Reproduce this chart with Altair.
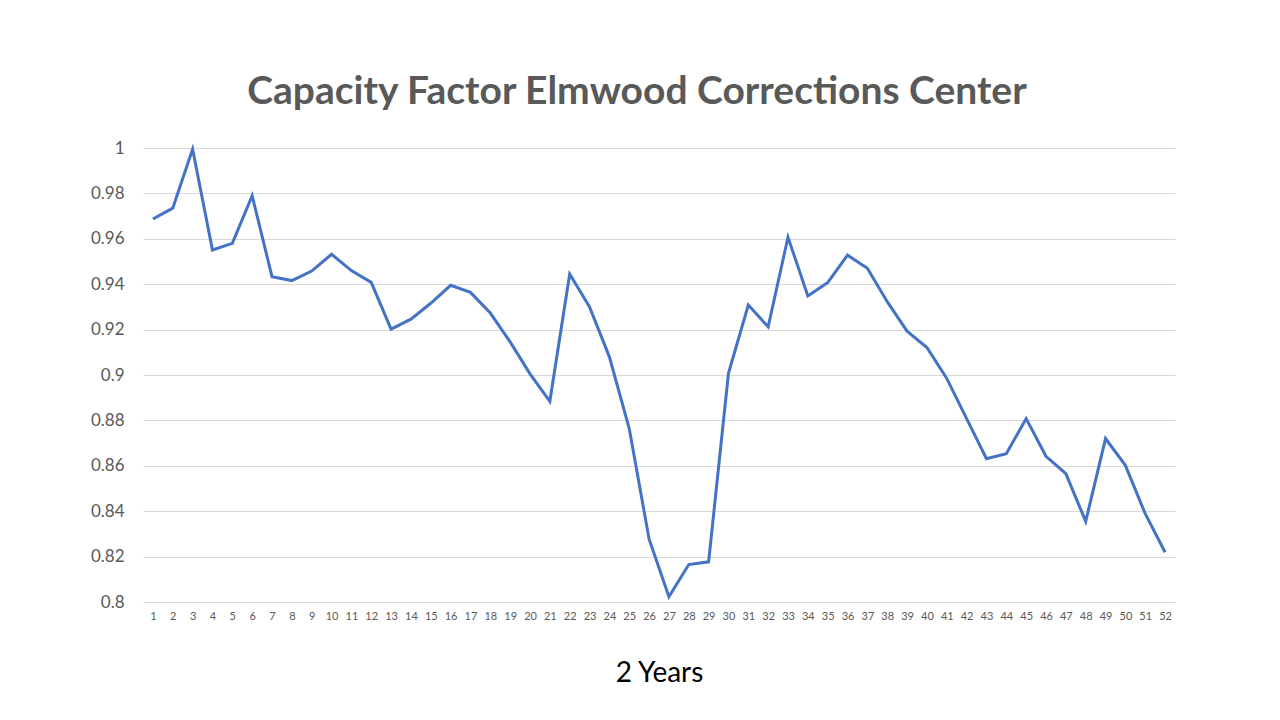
import altair as alt
import pandas as pd

weeks = list(range(1, 53))
capacity = [
    0.9687, 0.9735, 0.9995, 0.9551, 0.9580, 0.9790, 0.9433, 0.9416, 0.9458, 0.9532,
    0.9460, 0.9408, 0.9202, 0.9246, 0.9316, 0.9395, 0.9364, 0.9273, 0.9146, 0.9005,
    0.8884, 0.9445, 0.9300, 0.9080, 0.8764, 0.8278, 0.8023, 0.8165, 0.8177, 0.9007,
    0.9308, 0.9212, 0.9607, 0.9348, 0.9407, 0.9528, 0.9470, 0.9323, 0.9193, 0.9121,
    0.8985, 0.8808, 0.8631, 0.8653, 0.8808, 0.8642, 0.8565, 0.8355, 0.8720, 0.8602,
    0.8389, 0.8219,
]
y_ticks = [0.8, 0.82, 0.84, 0.86, 0.88, 0.9, 0.92, 0.94, 0.96, 0.98, 1.0]

df = pd.DataFrame({"week": weeks, "cf": capacity})

FONT = "Lato"
GRAY = "#595959"

chart = (
    alt.Chart(df)
    .mark_line(color="#4472C4", strokeWidth=3)
    .encode(
        x=alt.X(
            "week:O",
            sort=weeks,
            scale=alt.Scale(padding=0.5),
            axis=alt.Axis(
                title="2 Years",
                titleFont=FONT,
                titleFontSize=28,
                titleFontWeight="normal",
                titleColor="#000000",
                titlePadding=38,
                labelAngle=0,
                labelFont=FONT,
                labelFontSize=11,
                labelColor=GRAY,
                labelPadding=8,
                ticks=False,
                domain=True,
                domainColor="#d9d9d9",
                grid=False,
            ),
        ),
        y=alt.Y(
            "cf:Q",
            scale=alt.Scale(domain=[0.8, 1.0], nice=False, zero=False),
            axis=alt.Axis(
                title=None,
                values=y_ticks,
                format="~g",
                labelFont=FONT,
                labelFontSize=17,
                labelColor=GRAY,
                labelPadding=19,
                ticks=False,
                domain=False,
                grid=True,
                gridColor="#d9d9d9",
                gridWidth=1,
            ),
        ),
    )
    .properties(
        width=1032,
        height=454,
        background="white",
        padding={"left": 135, "top": 140, "right": 97, "bottom": 110},
        autosize=alt.AutoSizeParams(type="none"),
        title=alt.TitleParams(
            "Capacity Factor Elmwood Corrections Center",
            font=FONT,
            fontSize=39,
            fontWeight="bold",
            color=GRAY,
            anchor="middle",
            offset=27,
            dx=-22,
        ),
    )
    .configure_view(strokeWidth=0, stroke="transparent")
)

chart.save("out.html", embed_options={"renderer": "svg", "actions": False})
